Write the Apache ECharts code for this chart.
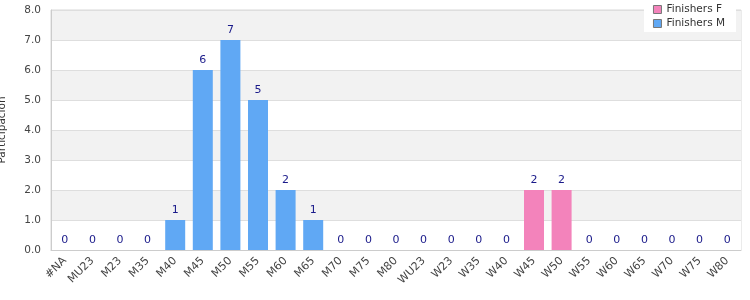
<!DOCTYPE html>
<html><head><meta charset="utf-8">
<script src="https://cdn.jsdelivr.net/npm/echarts@6/dist/echarts.min.js"></script>
<style>html,body{margin:0;padding:0;background:#fff}#c{width:750px;height:300px}</style>
</head><body><div id="c"></div>
<script>
const categories = ['#NA','MU23','M23','M35','M40','M45','M50','M55','M60','M65','M70','M75','M80','WU23','W23','W35','W40','W45','W50','W55','W60','W65','W70','W75','W80'];
const finishersF = [null,null,null,null,null,null,null,null,null,null,null,null,null,0,0,0,0,2,2,0,0,0,0,0,0];
const finishersM = [0,0,0,0,1,6,7,5,2,1,0,0,0,null,null,null,null,null,null,null,null,null,null,null,null];
const yTicks = [0,1,2,3,4,5,6,7,8];
const FONT = 'DejaVu Sans';
const chart = echarts.init(document.getElementById('c'), null, {renderer:'canvas'});
const lbl = {show:true, position:'top', distance:4, color:'#1a1a8a', fontFamily:FONT, fontSize:11};
chart.setOption({
  animation:false,
  textStyle:{fontFamily:FONT},
  grid:{left:51, right:9, top:10, bottom:50, show:true, borderColor:'#d8d8d8', borderWidth:1,
        containLabel:false, outerBoundsMode:'none'},
  legend:{
    orient:'vertical', right:14, top:1, itemWidth:8, itemHeight:8, itemGap:3,
    backgroundColor:'#fff', padding:[3,11,3,9],
    textStyle:{fontFamily:FONT, fontSize:10.5, color:'#333'},
    data:[{name:'Finishers F', icon:'rect', itemStyle:{borderColor:'#777', borderWidth:1}},
          {name:'Finishers M', icon:'rect', itemStyle:{borderColor:'#777', borderWidth:1}}]
  },
  xAxis:{
    type:'category', data:categories,
    axisTick:{show:false},
    axisLine:{lineStyle:{color:'#cccccc'}},
    axisLabel:{rotate:45, interval:0, hideOverlap:false, color:'#444', fontFamily:FONT, fontSize:11, margin:9}
  },
  yAxis:{
    type:'value', min:yTicks[0], max:yTicks[yTicks.length-1], interval:1,
    name:'Participación', nameLocation:'middle', nameGap:43,
    nameTextStyle:{color:'#333', fontFamily:FONT, fontSize:10.5},
    axisLine:{show:true, lineStyle:{color:'#cccccc'}},
    axisTick:{show:false},
    axisLabel:{formatter:v=>v.toFixed(1), color:'#444', fontFamily:FONT, fontSize:10.5, margin:10},
    splitLine:{lineStyle:{color:'#dedede'}},
    splitArea:{show:true, areaStyle:{color:['#ffffff','#f2f2f2']}}
  },
  series:[
    {name:'Finishers F', type:'bar', stack:'t', barWidth:20, data:finishersF,
     itemStyle:{color:'#f383bb'}, label:lbl},
    {name:'Finishers M', type:'bar', stack:'t', barWidth:20, data:finishersM,
     itemStyle:{color:'#60a8f4'}, label:lbl}
  ]
});
</script></body></html>
